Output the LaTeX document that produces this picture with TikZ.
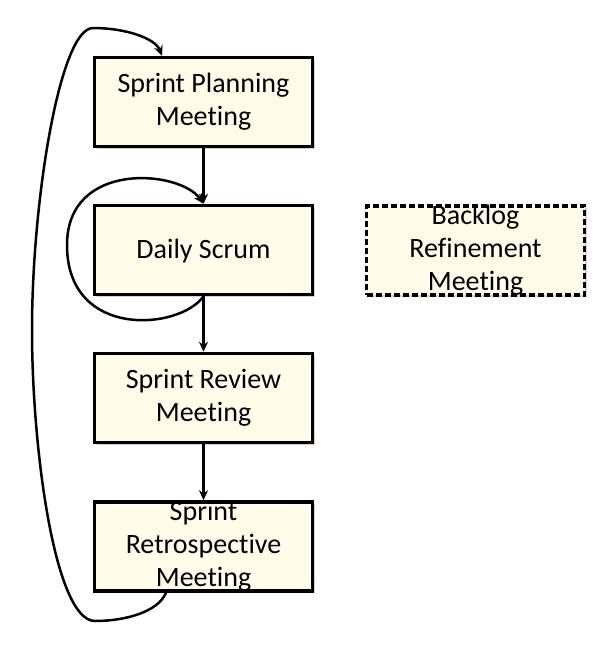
\documentclass[tikz,border=0pt]{standalone}
\usepackage{fontspec}
\setmainfont[Ligatures=NoCommon]{Carlito}
\usetikzlibrary{arrows.meta,shadows}
\definecolor{boxfill}{RGB}{255,253,234}
\tikzset{
  meetbox/.style={draw=black, line width=3.5pt, fill=boxfill, minimum width=218pt, minimum height=89pt, inner sep=0pt,
    drop shadow={shadow xshift=2pt, shadow yshift=-2pt, opacity=0.35, fill=gray}},
  dashbox/.style={meetbox, dash pattern=on 6pt off 3pt},
  boxtext/.style={align=center, font=\fontsize{28}{33}\selectfont, inner sep=0pt},
  arr/.style={line width=2.5pt, -{Stealth[length=10pt,width=9pt]}},
}
\begin{document}
\begin{tikzpicture}[x=1pt,y=-1pt]
\useasboundingbox (0,0) rectangle (599,649);
\node[meetbox] (plan) at (203.5,102) {};
\node[boxtext] (plantext) at (plan.center) {Sprint Planning\\Meeting};
\node[meetbox] (daily) at (203.5,250) {};
\node[boxtext] (dailytext) at ([yshift=-1pt]daily.center) {Daily Scrum};
\node[meetbox] (review) at (203.5,398) {};
\node[boxtext] (reviewtext) at (review.center) {Sprint Review\\Meeting};
\node[meetbox] (retro) at (203.5,546.5) {};
\node[boxtext] (retrotext) at (retro.center) {Sprint\\Retrospective\\Meeting};
\node[dashbox] (backlog) at (475.5,250.5) {};
\node[boxtext] (backlogtext) at (backlog.center) {Backlog\\Refinement\\Meeting};
\draw[arr] (plan) -- (daily);
\draw[arr] (daily) -- (review);
\draw[arr] (review) -- (retro);
\draw[arr] (daily.south) .. controls (180,330) and (67,340) .. (67,245)
  .. controls (67,160) and (180,170) .. (daily.north);
\draw[arr] ([xshift=-37.5pt]retro.south) .. controls (158,612) and (125,621) .. (95,621)
  .. controls (55,621) and (32,450) .. (32,330)
  .. controls (32,200) and (60,28) .. (93,28)
  .. controls (125,28) and (155,38) .. ([xshift=-41.5pt]plan.north);
\end{tikzpicture}
\end{document}
